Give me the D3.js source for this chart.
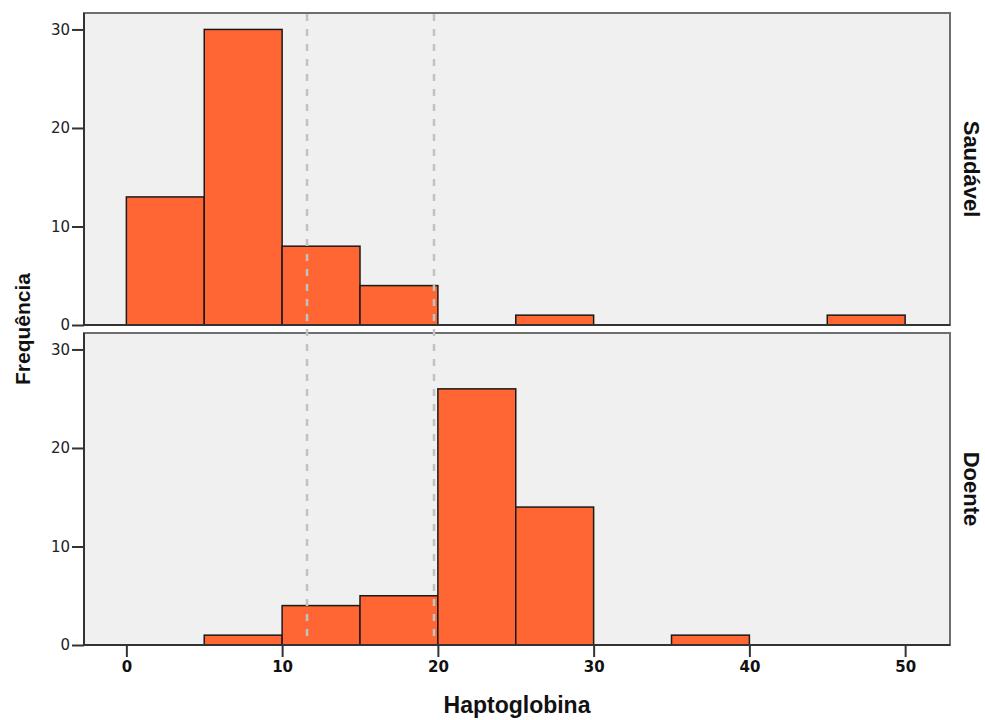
<!DOCTYPE html>
<html>
<head>
<meta charset="utf-8">
<script src="https://cdn.jsdelivr.net/npm/d3@7"></script>
<style>
  body { margin: 0; background: #fff; }
  svg { display: block; }
  .tick text { font-family: "DejaVu Sans", Verdana, sans-serif; }
</style>
</head>
<body>
<svg id="chart"></svg>
<script>
'use strict';

// bins of 5 units on Haptoglobina
var binStarts = [0, 5, 10, 15, 20, 25, 30, 35, 40, 45];
var binWidth = 5;
var panels = ["Saudável", "Doente"];
var countsSaudavel = [13, 30, 8, 4, 0, 1, 0, 0, 0, 1];
var countsDoente = [0, 1, 4, 5, 26, 14, 0, 1, 0, 0];
var refLines = [11.6, 19.75];
var xTicks = [0, 10, 20, 30, 40, 50];
var yTicks = [0, 10, 20, 30];

var width = 985, height = 720;
var left = 84, right = 950;
var panelTops = [13, 333];
var panelH = 312;

var svg = d3.select('#chart').attr('width', width).attr('height', height);

var x = d3.scaleLinear().domain([-2.72, 52.88]).range([left, right]);

var narrow = '"Liberation Sans Narrow", "Arial Narrow", "Liberation Sans", sans-serif';

var series = [countsSaudavel, countsDoente];

panels.forEach(function(name, p) {
  var top = panelTops[p];
  var y = d3.scaleLinear().domain([0, 31.67]).range([top + panelH, top]);
  var g = svg.append('g');

  // panel background
  g.append('rect')
    .attr('x', left).attr('y', top)
    .attr('width', right - left).attr('height', panelH)
    .attr('fill', '#f0f0f0');

  // bars
  var data = binStarts.map(function(b, i) { return {x0: b, n: series[p][i]}; })
    .filter(function(d) { return d.n > 0; });
  g.selectAll('.bar')
    .data(data)
    .enter().append('rect')
      .attr('class', 'bar')
      .attr('x', function(d) { return x(d.x0); })
      .attr('width', function(d) { return x(d.x0 + binWidth) - x(d.x0); })
      .attr('y', function(d) { return y(d.n); })
      .attr('height', function(d) { return y(0) - y(d.n); })
      .attr('fill', '#ff6633')
      .attr('stroke', '#1a1a1a')
      .attr('stroke-width', 1.5);

  // panel frame
  g.append('rect')
    .attr('x', left).attr('y', top)
    .attr('width', right - left).attr('height', panelH)
    .attr('fill', 'none')
    .attr('stroke', '#6e6e6e')
    .attr('stroke-width', 2);
  g.append('line')
    .attr('x1', left).attr('x2', left)
    .attr('y1', top).attr('y2', top + panelH)
    .attr('stroke', '#333').attr('stroke-width', 2);
  g.append('line')
    .attr('x1', left).attr('x2', right)
    .attr('y1', top + panelH).attr('y2', top + panelH)
    .attr('stroke', '#333').attr('stroke-width', 2);

  // y axis
  var ya = g.append('g')
    .attr('transform', 'translate(' + left + ',0)')
    .call(d3.axisLeft(y).tickValues(yTicks).tickSize(12).tickPadding(2));
  ya.select('.domain').remove();
  ya.selectAll('.tick line').attr('stroke', '#333').attr('stroke-width', 2);
  ya.selectAll('.tick text').attr('font-size', 15).attr('fill', '#222');

  // panel label
  g.append('text')
    .attr('transform', 'translate(964,' + (top + panelH / 2) + ') rotate(90)')
    .attr('text-anchor', 'middle')
    .attr('font-family', narrow)
    .attr('font-weight', 'bold')
    .attr('font-size', 22)
    .attr('fill', '#111')
    .text(name);
});

// reference dashed lines through both panels
svg.selectAll('.ref')
  .data(refLines)
  .enter().append('line')
    .attr('class', 'ref')
    .attr('x1', function(d) { return x(d); })
    .attr('x2', function(d) { return x(d); })
    .attr('y1', panelTops[0] + 1)
    .attr('y2', panelTops[1] + panelH - 1)
    .attr('stroke', '#c2c2c2')
    .attr('stroke-width', 2.5)
    .attr('stroke-dasharray', '7,8');

// x axis
var xa = svg.append('g')
  .attr('transform', 'translate(0,' + (panelTops[1] + panelH) + ')')
  .call(d3.axisBottom(x).tickValues(xTicks).tickSize(12).tickPadding(4));
xa.select('.domain').remove();
xa.selectAll('.tick line').attr('stroke', '#333').attr('stroke-width', 2);
xa.selectAll('.tick text').attr('font-size', 15).attr('font-weight', 'bold').attr('fill', '#111');

// axis titles
svg.append('text')
  .attr('x', (left + right) / 2).attr('y', 713)
  .attr('text-anchor', 'middle')
  .attr('font-family', narrow)
  .attr('font-weight', 'bold')
  .attr('font-size', 23)
  .attr('fill', '#111')
  .text('Haptoglobina');

svg.append('text')
  .attr('transform', 'translate(30,329) rotate(-90)')
  .attr('text-anchor', 'middle')
  .attr('font-family', narrow)
  .attr('font-weight', 'bold')
  .attr('font-size', 21)
  .attr('fill', '#111')
  .text('Frequência');
</script>
</body>
</html>
